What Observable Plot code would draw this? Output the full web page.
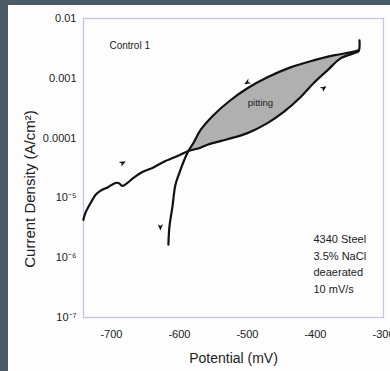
<!DOCTYPE html>
<html>
<head>
<meta charset="utf-8">
<script src="https://cdn.jsdelivr.net/npm/d3@7"></script>
<script src="https://cdn.jsdelivr.net/npm/@observablehq/plot@0.6"></script>
<style>
  html, body { margin: 0; padding: 0; background: #4b5a65; width: 390px; height: 371px; overflow: hidden; }
  #chart { position: absolute; left: 8px; top: 5px; width: 382px; height: 366px; background: #fdfdfd; }
  #chart svg { display: block; }
</style>
</head>
<body>
<div id="chart"></div>
<script>
// Forward (anodic) scan: potential (mV), log10 current density (A/cm^2)
const fwdPotential = [-741.2, -738.2, -733.8, -727.9, -723.5, -716.2, -704.4, -694.1, -689.7, -683.8, -676.5, -667.6, -654.4, -639.7, -623.5, -602.9, -586.8, -569.1, -558.8, -529.4, -500.0, -470.6, -447.1, -422.1, -402.9, -382.4, -363.2, -344.1, -336.8, -335.3];
const fwdLogCurrent = [-5.367, -5.25, -5.15, -5.033, -4.95, -4.883, -4.817, -4.75, -4.75, -4.80, -4.75, -4.667, -4.567, -4.5, -4.4, -4.3, -4.217, -4.16, -4.11, -4.02, -3.917, -3.75, -3.567, -3.317, -3.083, -2.867, -2.667, -2.583, -2.55, -2.367];
// Reverse scan
const revPotential = [-336.8, -348.5, -373.5, -402.9, -436.8, -470.6, -500.0, -525.0, -550.0, -569.1, -579.4, -586.8, -594.1, -598.5, -605.9, -610.3, -614.7, -616.2];
const revLogCurrent = [-2.533, -2.567, -2.617, -2.7, -2.817, -2.983, -3.167, -3.367, -3.617, -3.867, -4.083, -4.217, -4.4, -4.533, -4.783, -5.15, -5.483, -5.783];

const xTicks = [-700, -600, -500, -400, -300];
const yTicks = [1e-2, 1e-3, 1e-4, 1e-5, 1e-6, 1e-7];
const yTickLabels = ["0.01", "0.001", "0.0001", "10\u207B\u2075", "10\u207B\u2076", "10\u207B\u2077"];

const notes = ["4340 Steel", "3.5% NaCl", "deaerated", "10 mV/s"];

const fwd = fwdPotential.map((p, i) => ({p, c: Math.pow(10, fwdLogCurrent[i])}));
const rev = revPotential.map((p, i) => ({p, c: Math.pow(10, revLogCurrent[i])}));

// Pitting loop polygon: forward from the crossing to the vertex, reverse back to the crossing
const crossF = fwdPotential.indexOf(-586.8);
const crossR = revPotential.indexOf(-586.8);
const loop = fwd.slice(crossF, fwd.length - 1).concat(rev.slice(0, crossR + 1));

// Direction arrows (angle in degrees, 0 = pointing up, clockwise)
const arrowPotential = [-683.8, -628.0, -500.0, -388.2];
const arrowLogCurrent = [-4.417, -5.483, -3.067, -3.167];
const arrowAngle = [60, 180, -120, 55];
const arrows = arrowPotential.map((p, i) => ({p, c: Math.pow(10, arrowLogCurrent[i]), angle: arrowAngle[i]}));

// Chevron arrowhead symbol pointing up
const arrowhead = {
  draw(context, size) {
    const s = Math.sqrt(size / Math.PI);
    context.moveTo(0, -s * 1.1);
    context.lineTo(s * 0.8, s * 0.8);
    context.lineTo(0, s * 0.25);
    context.lineTo(-s * 0.8, s * 0.8);
    context.closePath();
  }
};

const chart = Plot.plot({
  width: 382,
  height: 366,
  marginLeft: 75,
  marginRight: 7,
  marginTop: 13,
  marginBottom: 54,
  style: {fontFamily: "Liberation Sans, Arial, sans-serif", fontSize: "11px", color: "#222", background: "transparent"},
  x: {domain: [-741, -300], label: null},
  y: {type: "log", domain: [1e-7, 1e-2], label: null},
  marks: [
    Plot.frame({stroke: "#c4c4e6", strokeWidth: 1.2}),
    Plot.axisX({ticks: xTicks, tickSize: 0, tickPadding: 13, tickFormat: d => String(d), fontSize: 11}),
    Plot.axisY({ticks: yTicks, tickSize: 0, tickPadding: 7, tickFormat: d => yTickLabels[yTicks.indexOf(d)], fontSize: 11}),
    Plot.line(loop, {x: "p", y: "c", fill: "#b0b0b0", stroke: "none", curve: "catmull-rom"}),
    Plot.line(fwd, {x: "p", y: "c", stroke: "#111", strokeWidth: 2.2, curve: "catmull-rom"}),
    Plot.line(rev, {x: "p", y: "c", stroke: "#111", strokeWidth: 2.2, curve: "catmull-rom"}),
    Plot.dot(arrows, {x: "p", y: "c", symbol: arrowhead, r: 3.4, fill: "#111", stroke: "none", rotate: d => d.angle}),
    Plot.text(["Control 1"], {x: -702.9, y: Math.pow(10, -2.45), text: d => d, textAnchor: "start", fontSize: 10, fill: "#222"}),
    Plot.text(["pitting"], {x: -480.9, y: Math.pow(10, -3.417), text: d => d, fontSize: 9.5, fill: "#222"}),
    Plot.text([notes.join("\n")], {x: -402.9, y: Math.pow(10, -6.083), text: d => d, textAnchor: "start", lineAnchor: "middle", lineHeight: 1.5, fontSize: 11, fill: "#222"}),
    Plot.text(["Potential (mV)"], {frameAnchor: "bottom", text: d => d, textAnchor: "middle", lineAnchor: "middle", dy: 41, fontSize: 14, fill: "#222"}),
    Plot.text(["Current Density (A/cm\u00B2)"], {frameAnchor: "left", text: d => d, textAnchor: "middle", lineAnchor: "middle", rotate: -90, dx: -53, dy: 21, fontSize: 15, fill: "#222"})
  ]
});
document.getElementById("chart").appendChild(chart);
</script>
</body>
</html>
